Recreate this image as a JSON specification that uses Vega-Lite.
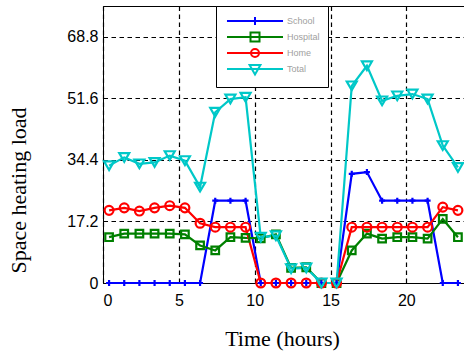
{
  "$schema": "https://vega.github.io/schema/vega-lite/v6.json",
  "width": 361,
  "height": 277,
  "autosize": {"type": "none"},
  "padding": {"left": 103, "top": 6, "right": 0, "bottom": 71},
  "background": "white",
  "config": {
    "view": {"stroke": "black", "strokeWidth": 1},
    "axis": {
      "labelFont": "Liberation Sans",
      "labelFontSize": 16,
      "labelColor": "black",
      "titleFont": "Liberation Serif",
      "titleFontSize": 22,
      "titleFontWeight": "normal",
      "titleColor": "black",
      "gridColor": "black",
      "gridDash": [4.5, 3.5],
      "gridOpacity": 1,
      "gridWidth": 1.2,
      "domainColor": "black",
      "ticks": false
    },
    "legend": {
      "orient": "none",
      "legendX": 113,
      "legendY": 0,
      "title": null,
      "padding": 8,
      "fillColor": "white",
      "strokeColor": "black",
      "symbolSize": 144,
      "symbolStrokeWidth": 2,
      "symbolFillColor": "transparent",
      "symbolOpacity": 1,
      "symbolOffset": 24,
      "labelOffset": 25,
      "labelFont": "Liberation Sans",
      "labelFontSize": 9,
      "labelColor": "#a0a0a0",
      "rowPadding": -3
    }
  },
  "data": {
    "values": [
      {"h": 0.4, "s": "School", "v": 0}, {"h": 1.4, "s": "School", "v": 0}, {"h": 2.4, "s": "School", "v": 0}, {"h": 3.4, "s": "School", "v": 0},
      {"h": 4.4, "s": "School", "v": 0}, {"h": 5.4, "s": "School", "v": 0}, {"h": 6.4, "s": "School", "v": 0}, {"h": 7.4, "s": "School", "v": 23},
      {"h": 8.4, "s": "School", "v": 23}, {"h": 9.4, "s": "School", "v": 23}, {"h": 10.4, "s": "School", "v": 0}, {"h": 11.4, "s": "School", "v": 0},
      {"h": 12.4, "s": "School", "v": 0}, {"h": 13.4, "s": "School", "v": 0}, {"h": 14.4, "s": "School", "v": 0}, {"h": 15.4, "s": "School", "v": 0},
      {"h": 16.4, "s": "School", "v": 30.5}, {"h": 17.4, "s": "School", "v": 31}, {"h": 18.4, "s": "School", "v": 23}, {"h": 19.4, "s": "School", "v": 23},
      {"h": 20.4, "s": "School", "v": 23}, {"h": 21.4, "s": "School", "v": 23}, {"h": 22.4, "s": "School", "v": 0}, {"h": 23.4, "s": "School", "v": 0},

      {"h": 0.4, "s": "Hospital", "v": 12.8}, {"h": 1.4, "s": "Hospital", "v": 13.8}, {"h": 2.4, "s": "Hospital", "v": 13.8}, {"h": 3.4, "s": "Hospital", "v": 13.8},
      {"h": 4.4, "s": "Hospital", "v": 13.8}, {"h": 5.4, "s": "Hospital", "v": 13.6}, {"h": 6.4, "s": "Hospital", "v": 10.5}, {"h": 7.4, "s": "Hospital", "v": 9.1},
      {"h": 8.4, "s": "Hospital", "v": 12.8}, {"h": 9.4, "s": "Hospital", "v": 12.6}, {"h": 10.4, "s": "Hospital", "v": 12.5}, {"h": 11.4, "s": "Hospital", "v": 13.6},
      {"h": 12.4, "s": "Hospital", "v": 4.2}, {"h": 13.4, "s": "Hospital", "v": 4.4}, {"h": 14.4, "s": "Hospital", "v": 0}, {"h": 15.4, "s": "Hospital", "v": 0},
      {"h": 16.4, "s": "Hospital", "v": 9.1}, {"h": 17.4, "s": "Hospital", "v": 13.8}, {"h": 18.4, "s": "Hospital", "v": 12.4}, {"h": 19.4, "s": "Hospital", "v": 12.8},
      {"h": 20.4, "s": "Hospital", "v": 12.8}, {"h": 21.4, "s": "Hospital", "v": 12.4}, {"h": 22.4, "s": "Hospital", "v": 17.9}, {"h": 23.4, "s": "Hospital", "v": 12.8},

      {"h": 0.4, "s": "Home", "v": 20.3}, {"h": 1.4, "s": "Home", "v": 21.0}, {"h": 2.4, "s": "Home", "v": 20.1}, {"h": 3.4, "s": "Home", "v": 21.0},
      {"h": 4.4, "s": "Home", "v": 21.6}, {"h": 5.4, "s": "Home", "v": 21.0}, {"h": 6.4, "s": "Home", "v": 16.7}, {"h": 7.4, "s": "Home", "v": 15.6},
      {"h": 8.4, "s": "Home", "v": 15.6}, {"h": 9.4, "s": "Home", "v": 15.6}, {"h": 10.4, "s": "Home", "v": 0}, {"h": 11.4, "s": "Home", "v": 0},
      {"h": 12.4, "s": "Home", "v": 0}, {"h": 13.4, "s": "Home", "v": 0}, {"h": 14.4, "s": "Home", "v": 0}, {"h": 15.4, "s": "Home", "v": 0},
      {"h": 16.4, "s": "Home", "v": 15.6}, {"h": 17.4, "s": "Home", "v": 15.6}, {"h": 18.4, "s": "Home", "v": 15.6}, {"h": 19.4, "s": "Home", "v": 15.6},
      {"h": 20.4, "s": "Home", "v": 15.6}, {"h": 21.4, "s": "Home", "v": 15.6}, {"h": 22.4, "s": "Home", "v": 21.2}, {"h": 23.4, "s": "Home", "v": 20.3},

      {"h": 0.4, "s": "Total", "v": 32.8}, {"h": 1.4, "s": "Total", "v": 35.1}, {"h": 2.4, "s": "Total", "v": 33.3}, {"h": 3.4, "s": "Total", "v": 33.7},
      {"h": 4.4, "s": "Total", "v": 35.6}, {"h": 5.4, "s": "Total", "v": 34.2}, {"h": 6.4, "s": "Total", "v": 26.8}, {"h": 7.4, "s": "Total", "v": 47.7},
      {"h": 8.4, "s": "Total", "v": 51.4}, {"h": 9.4, "s": "Total", "v": 51.9}, {"h": 10.4, "s": "Total", "v": 12.8}, {"h": 11.4, "s": "Total", "v": 13.2},
      {"h": 12.4, "s": "Total", "v": 4.0}, {"h": 13.4, "s": "Total", "v": 4.2}, {"h": 14.4, "s": "Total", "v": 0}, {"h": 15.4, "s": "Total", "v": 0},
      {"h": 16.4, "s": "Total", "v": 55.1}, {"h": 17.4, "s": "Total", "v": 60.7}, {"h": 18.4, "s": "Total", "v": 50.9}, {"h": 19.4, "s": "Total", "v": 52.3},
      {"h": 20.4, "s": "Total", "v": 52.8}, {"h": 21.4, "s": "Total", "v": 51.4}, {"h": 22.4, "s": "Total", "v": 38.4}, {"h": 23.4, "s": "Total", "v": 32.3}
    ]
  },
  "encoding": {
    "x": {
      "field": "h",
      "type": "quantitative",
      "scale": {"domain": [0, 23.8], "nice": false, "zero": false},
      "axis": {
        "values": [0, 5, 10, 15, 20],
        "title": "Time (hours)",
        "labelPadding": 9,
        "titleX": 179,
        "titleY": 62,
        "titleBaseline": "alphabetic",
        "titleAnchor": null,
        "titleAlign": "center"
      }
    },
    "y": {
      "field": "v",
      "type": "quantitative",
      "scale": {"domain": [0, 77.4], "nice": false},
      "axis": {
        "values": [0, 17.2, 34.4, 51.6, 68.8],
        "labelExpr": "datum.value == 0 ? '0' : format(datum.value, '.1f')",
        "title": "Space heating load",
        "labelPadding": 5,
        "titleAngle": 270,
        "titleX": -78,
        "titleY": 184,
        "titleBaseline": "alphabetic",
        "titleAlign": "center"
      }
    }
  },
  "layer": [
    {
      "mark": {"type": "line", "strokeWidth": 2.2},
      "encoding": {
        "color": {
          "field": "s",
          "type": "nominal",
          "scale": {"domain": ["School", "Hospital", "Home", "Total"], "range": ["#0000ff", "#008000", "#ff0000", "#00c8c8"]},
          "legend": null
        }
      }
    },
    {
      "mark": {"type": "point", "filled": false, "strokeWidth": 2.2, "opacity": 1},
      "encoding": {
        "color": {
          "field": "s",
          "type": "nominal",
          "scale": {"domain": ["School", "Hospital", "Home", "Total"], "range": ["#0000ff", "#008000", "#ff0000", "#00c8c8"]},
          "legend": null
        },
        "shape": {
          "field": "s",
          "type": "nominal",
          "scale": {"domain": ["School", "Hospital", "Home", "Total"], "range": ["M-1,0H1M0,-1V1", "square", "circle", "triangle-down"]},
          "legend": null
        },
        "size": {
          "field": "s",
          "type": "nominal",
          "scale": {"domain": ["School", "Hospital", "Home", "Total"], "range": [36, 100, 70, 120]},
          "legend": null
        }
      }
    },
    {
      "mark": {"type": "point", "filled": false, "opacity": 0},
      "encoding": {
        "color": {
          "field": "s",
          "type": "nominal",
          "scale": {"domain": ["School", "Hospital", "Home", "Total"], "range": ["#0000ff", "#008000", "#ff0000", "#00c8c8"]},
          "legend": {"encode": {"legend": {"update": {"strokeWidth": {"value": 1.5}}}, "symbols": {"update": {"opacity": {"value": 1}}}}}
        },
        "shape": {
          "field": "s",
          "type": "nominal",
          "scale": {
            "domain": ["School", "Hospital", "Home", "Total"],
            "range": [
              "M-4.67,0H4.67M0,-0.67V0.67",
              "M-4.67,0H4.67M-0.75,-0.75H0.75V0.75H-0.75Z",
              "M-4.67,0H4.67M-0.67,0A0.67,0.67,0,1,0,0.67,0A0.67,0.67,0,1,0,-0.67,0",
              "M-4.67,0H4.67M-0.9,-0.65L0.9,-0.65L0,0.9Z"
            ]
          },
          "legend": {"encode": {"legend": {"update": {"strokeWidth": {"value": 1.5}}}, "symbols": {"update": {"opacity": {"value": 1}}}}}
        }
      }
    }
  ],
  "resolve": {"scale": {"shape": "independent", "color": "independent"}}
}
